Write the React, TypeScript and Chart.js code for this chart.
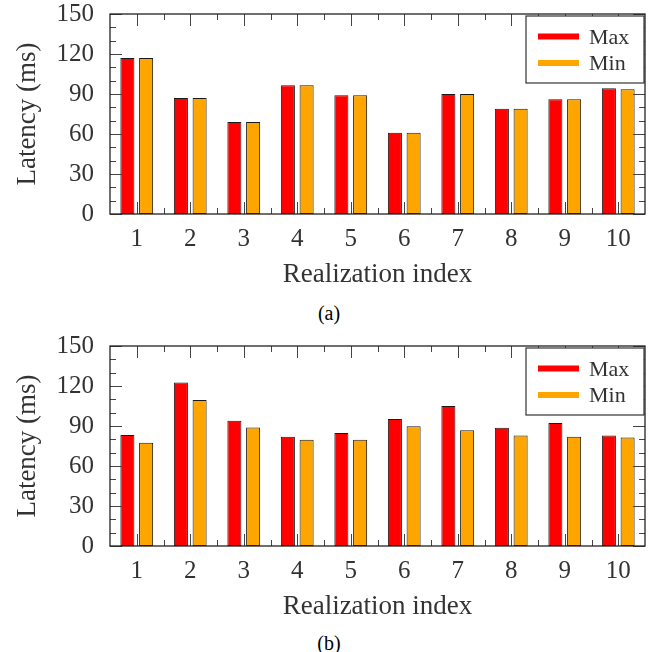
import React, { useEffect, useRef } from "react";
import { Chart, registerables } from "chart.js";

Chart.register(...registerables);

// ---- data ----
const categories = ["1", "2", "3", "4", "5", "6", "7", "8", "9", "10"];
const seriesLabels = ["Max", "Min"];
const seriesColors = ["#ff0000", "#ffa500"];
const yMin = 0;
const yMax = 150;
const yStep = 30;

const latencyMaxA = [117, 87, 69, 96.5, 89, 61, 90, 79, 86, 94.3];
const latencyMinA = [117, 87, 69, 96.5, 89, 61, 90, 79, 86, 93.5];

const latencyMaxB = [83.3, 122.6, 94, 81.9, 84.8, 95.3, 105, 88.6, 92.3, 82.8];
const latencyMinB = [77.4, 109.5, 88.8, 79.6, 79.6, 89.8, 86.8, 82.8, 81.9, 81.3];

const FONT = "'Liberation Serif', 'Times New Roman', serif";
const TEXT = "#333";

const frameTicksPlugin = {
  id: "frameTicks",
  afterDatasetsDraw(chart: any) {
    const { ctx, chartArea: a, scales } = chart;
    const x = scales.x;
    const y = scales.y;
    ctx.save();
    ctx.strokeStyle = "#444";
    ctx.lineWidth = 1;
    ctx.beginPath();
    const n = chart.data.labels.length;
    for (let i = 0; i < n; i++) {
      const px = Math.round(x.getPixelForValue(i)) + 0.5;
      ctx.moveTo(px, a.bottom);
      ctx.lineTo(px, a.bottom - 12);
      ctx.moveTo(px, a.top);
      ctx.lineTo(px, a.top + 12);
      if (i < n - 1) {
        const mx = Math.round((x.getPixelForValue(i) + x.getPixelForValue(i + 1)) / 2) + 0.5;
        ctx.moveTo(mx, a.bottom);
        ctx.lineTo(mx, a.bottom - 6);
        ctx.moveTo(mx, a.top);
        ctx.lineTo(mx, a.top + 6);
      }
    }
    for (let v = y.min; v <= y.max; v += 10) {
      const py = Math.round(y.getPixelForValue(v)) + 0.5;
      const len = v % 30 === 0 ? 12 : 6;
      ctx.moveTo(a.left, py);
      ctx.lineTo(a.left + len, py);
      ctx.moveTo(a.right, py);
      ctx.lineTo(a.right - len, py);
    }
    ctx.stroke();

    // frame
    ctx.strokeStyle = "#222";
    ctx.lineWidth = 1.3;
    ctx.strokeRect(a.left, a.top, a.right - a.left, a.bottom - a.top);

    // legend box
    const bw = 118;
    const bh = 67;
    const bx = a.right - bw - 1;
    const by = a.top + 2;
    ctx.fillStyle = "#ffffff";
    ctx.fillRect(bx, by, bw, bh);
    ctx.strokeStyle = "#333";
    ctx.lineWidth = 1.2;
    ctx.strokeRect(bx, by, bw, bh);
    chart.data.datasets.forEach((ds: any, i: number) => {
      const ly = by + 20.5 + i * 26.5;
      ctx.strokeStyle = ds.backgroundColor;
      ctx.lineWidth = 6;
      ctx.beginPath();
      ctx.moveTo(bx + 12, ly);
      ctx.lineTo(bx + 53, ly);
      ctx.stroke();
      ctx.fillStyle = TEXT;
      ctx.font = `22px ${FONT}`;
      ctx.textAlign = "left";
      ctx.textBaseline = "middle";
      ctx.fillText(ds.label, bx + 63, ly + 1.5);
    });
    ctx.restore();
  },
};

function LatencyChart({ maxValues, minValues }: { maxValues: number[]; minValues: number[] }) {
  const ref = useRef<HTMLCanvasElement | null>(null);
  useEffect(() => {
    if (!ref.current) return;
    const values = [maxValues, minValues];
    const chart = new Chart(ref.current, {
      type: "bar",
      data: {
        labels: categories,
        datasets: seriesLabels.map((label, i) => ({
          label,
          data: values[i],
          backgroundColor: seriesColors[i],
          borderColor: "#1a1a1a",
          borderWidth: 1,
          borderSkipped: false,
          categoryPercentage: 0.7,
          barPercentage: 0.75,
        })),
      },
      options: {
        animation: false,
        responsive: false,
        maintainAspectRatio: false,
        layout: { padding: { top: 14, right: 11, left: 0, bottom: 0 } },
        plugins: { legend: { display: false }, tooltip: { enabled: false } },
        scales: {
          x: {
            type: "category",
            offset: true,
            grid: { display: false, drawTicks: false },
            border: { display: false },
            ticks: { font: { family: FONT, size: 25 }, color: TEXT, padding: 10 },
            title: {
              display: true,
              text: "Realization index",
              font: { family: FONT, size: 27 },
              color: TEXT,
              padding: { top: 0, bottom: 9 },
            },
            afterFit: (s: any) => {
              s.height = 86;
              s.paddingLeft = 0;
              s.paddingRight = 0;
            },
          },
          y: {
            min: yMin,
            max: yMax,
            grid: { display: false, drawTicks: false },
            border: { display: false },
            ticks: { stepSize: yStep, font: { family: FONT, size: 25 }, color: TEXT, padding: 16 },
            title: {
              display: true,
              text: "Latency (ms)",
              font: { family: FONT, size: 27 },
              color: TEXT,
              padding: { top: 12, bottom: 0 },
            },
            afterFit: (s: any) => {
              s.width = 110;
              s.paddingTop = 0;
              s.paddingBottom = 0;
            },
          },
        },
      } as any,
      plugins: [frameTicksPlugin],
    });
    return () => chart.destroy();
  }, [maxValues, minValues]);
  return <canvas ref={ref} width={656} height={300} style={{ display: "block", width: 656, height: 300 }} />;
}

const captionStyle: React.CSSProperties = {
  position: "absolute",
  left: 1,
  width: 656,
  textAlign: "center",
  fontFamily: FONT,
  fontSize: 20,
  lineHeight: "20px",
  color: "#000",
};

export default function App() {
  return (
    <div style={{ position: "absolute", left: 0, top: 0, width: 656, height: 652, background: "#fff" }}>
      <div style={{ position: "absolute", left: 0, top: 0 }}>
        <LatencyChart maxValues={latencyMaxA} minValues={latencyMinA} />
      </div>
      <div style={{ ...captionStyle, top: 303 }}>(a)</div>
      <div style={{ position: "absolute", left: 0, top: 332 }}>
        <LatencyChart maxValues={latencyMaxB} minValues={latencyMinB} />
      </div>
      <div style={{ ...captionStyle, top: 633 }}>(b)</div>
    </div>
  );
}
